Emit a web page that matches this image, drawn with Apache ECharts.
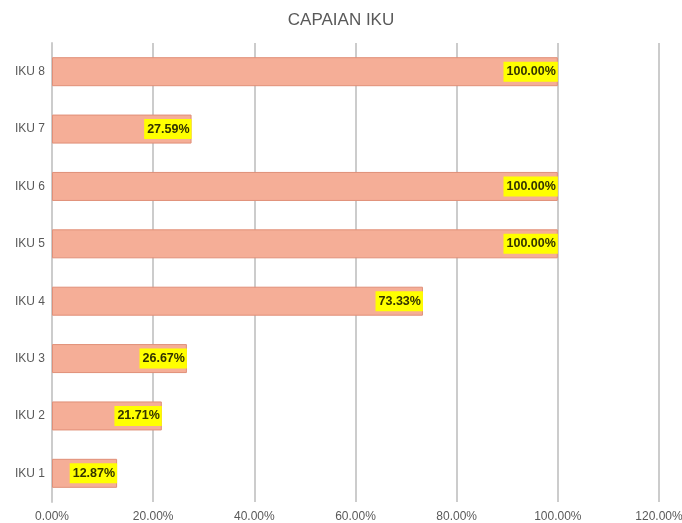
<!DOCTYPE html>
<html>
<head>
<meta charset="utf-8">
<script src="https://cdn.jsdelivr.net/npm/echarts@6/dist/echarts.min.js"></script>
<style>html,body{margin:0;padding:0;background:#fff;}#c{width:682px;height:523px;}</style>
</head>
<body>
<div id="c"></div>
<script>
const categories = ["IKU 1","IKU 2","IKU 3","IKU 4","IKU 5","IKU 6","IKU 7","IKU 8"];
const values = [12.87, 21.71, 26.67, 73.33, 100.00, 100.00, 27.59, 100.00];
const xTicks = [0, 20, 40, 60, 80, 100, 120];

const chart = echarts.init(document.getElementById('c'), null, {renderer:'canvas'});
chart.setOption({
  animation: false,
  backgroundColor: '#ffffff',
  title: {
    text: 'CAPAIAN IKU',
    left: 'center',
    top: 7,
    textStyle: {fontFamily: 'Liberation Sans, Arial, sans-serif', fontSize: 17, fontWeight: 'normal', color: '#595959'}
  },
  grid: {left: 52, right: 23, top: 43, bottom: 21, containLabel: false, outerBoundsMode: 'none'},
  xAxis: {
    type: 'value', min: xTicks[0], max: xTicks[xTicks.length-1], interval: 20,
    axisLine: {show: false}, axisTick: {show: false},
    splitLine: {show: true, lineStyle: {color: '#cccccc', width: 2}},
    axisLabel: {formatter: v => v.toFixed(2) + '%', color: '#595959', fontSize: 12, margin: 9,
      fontFamily: 'Liberation Sans, Arial, sans-serif'}
  },
  yAxis: {
    type: 'category', data: categories,
    axisLine: {show: true, lineStyle: {color: '#cccccc', width: 2}},
    axisTick: {show: false},
    axisLabel: {color: '#595959', fontSize: 12, margin: 7, fontFamily: 'Liberation Sans, Arial, sans-serif'}
  },
  series: [{
    type: 'bar', data: values, barWidth: 29,
    itemStyle: {color: '#f5ae97', borderColor: '#e08f78', borderWidth: 1},
    label: {
      show: true, position: 'insideRight', offset: [1, 0], distance: 1,
      formatter: p => p.value.toFixed(2) + '%',
      backgroundColor: '#ffff00', color: '#333300',
      fontSize: 12.5, fontWeight: 'bold', fontFamily: 'Liberation Sans, Arial, sans-serif',
      padding: [4, 2, 3, 3]
    }
  }]
});
</script>
</body>
</html>
